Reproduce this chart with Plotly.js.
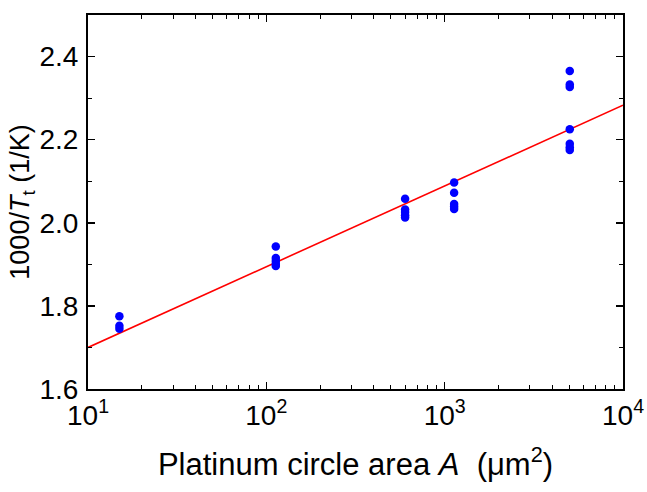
<!DOCTYPE html>
<html>
<head>
<meta charset="utf-8">
<script src="https://cdn.plot.ly/plotly-3.0.1.min.js"></script>
<style>html,body{margin:0;padding:0;background:#fff;}#chart{width:647px;height:492px;}</style>
</head>
<body>
<div id="chart"></div>
<script>
// Measured data: platinum circle area (µm²) and 1000/Tt (1/K)
const areaX = [15, 15, 15,
  113, 113, 113, 113, 113,
  600, 600, 600, 600, 600,
  1130, 1130, 1130, 1130, 1130,
  5030, 5030, 5030, 5030, 5030, 5030, 5030];
const invT = [1.775, 1.752, 1.745,
  1.943, 1.915, 1.908, 1.901, 1.896,
  2.058, 2.032, 2.026, 2.018, 2.013,
  2.097, 2.072, 2.045, 2.039, 2.033,
  2.365, 2.333, 2.327, 2.225, 2.190, 2.182, 2.175];
// Fit line endpoints
const fitX = [10, 10000];
const fitY = [1.700, 2.283];
const xTickVals = [10, 100, 1000, 10000];
const xTickText = ['10<sup>1</sup>', '10<sup>2</sup>', '10<sup>3</sup>', '10<sup>4</sup>'];
const yTickVals = [1.6, 1.8, 2.0, 2.2, 2.4];
const yTickText = ['1.6', '1.8', '2.0', '2.2', '2.4'];
const yTitle = '1000/<i>T</i><sub>t</sub> (1/K)';
const xTitle = 'Platinum circle area <i>A</i>  (\u03bcm<sup>2</sup>)';

const font = 'Liberation Sans, Arial, sans-serif';
const traces = [
  {x: fitX, y: fitY, mode: 'lines', line: {color: '#ff0000', width: 1.6}, hoverinfo: 'skip'},
  {x: areaX, y: invT, mode: 'markers', marker: {color: '#0000ff', size: 8.5}}
];
const axisCommon = {
  showline: true, linecolor: '#000', linewidth: 2, mirror: 'ticks',
  ticks: 'inside', ticklen: 7, tickwidth: 1.5, tickcolor: '#000',
  showgrid: false, zeroline: false,
  tickfont: {family: font, size: 28, color: '#000'}
};
const layout = {
  width: 647, height: 492,
  margin: {l: 88, r: 24, t: 15, b: 103},
  paper_bgcolor: '#fff', plot_bgcolor: '#fff',
  showlegend: false,
  font: {family: font, color: '#000'},
  xaxis: Object.assign({}, axisCommon, {
    type: 'log', range: [1, 4],
    tickmode: 'array', tickvals: xTickVals, ticktext: xTickText,
    ticklabelstandoff: 0,
    minor: {ticks: 'inside', ticklen: 4, tickwidth: 1, tickcolor: '#000', dtick: 'D1', showgrid: false},
    title: {text: xTitle, font: {family: font, size: 31, color: '#000'}, standoff: 24}
  }),
  yaxis: Object.assign({}, axisCommon, {
    range: [1.6, 2.5],
    tickmode: 'array', tickvals: yTickVals, ticktext: yTickText,
    ticklabelstandoff: 2,
    minor: {ticks: 'inside', ticklen: 4, tickwidth: 1, tickcolor: '#000', dtick: 0.1, showgrid: false},
    title: {text: yTitle, font: {family: font, size: 27, color: '#000'}, standoff: 2}
  })
};
Plotly.newPlot('chart', traces, layout, {displayModeBar: false, staticPlot: true});
</script>
</body>
</html>
